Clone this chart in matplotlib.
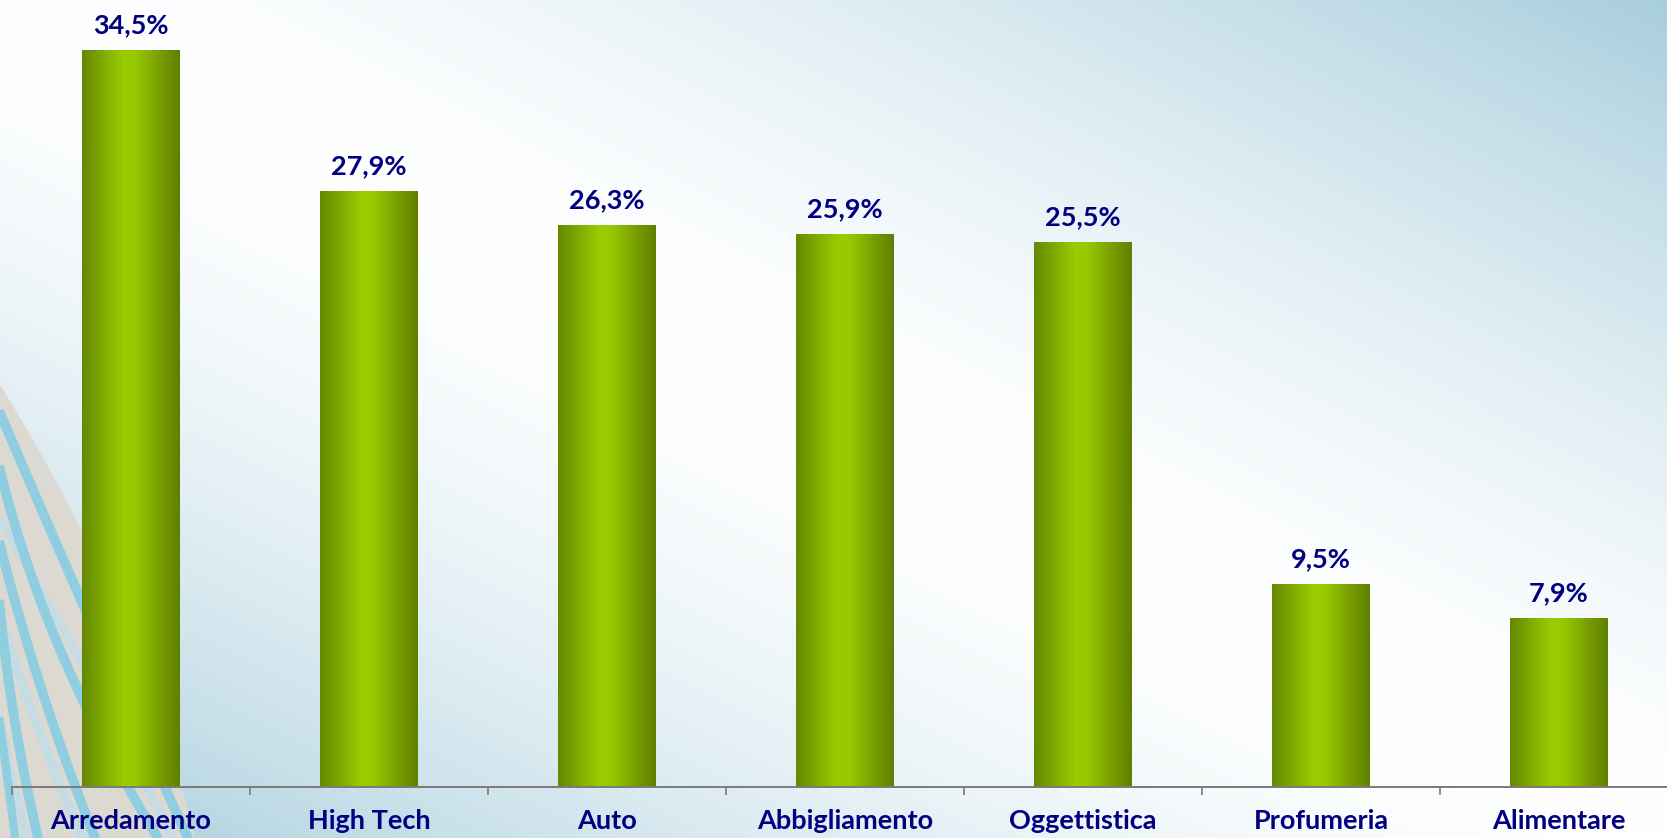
import numpy as np
import matplotlib
matplotlib.use("Agg")
import matplotlib.pyplot as plt
from matplotlib.colors import LinearSegmentedColormap

# ---- data ----
categories = ["Arredamento", "High Tech", "Auto", "Abbigliamento",
              "Oggettistica", "Profumeria", "Alimentare"]
values = [34.5, 27.9, 26.3, 25.9, 25.5, 9.5, 7.9]
value_labels = ["34,5%", "27,9%", "26,3%", "25,9%", "25,5%", "9,5%", "7,9%"]

W, H = 1667, 838
NAVY = "#000080"
FONT = ["Lato", "DejaVu Sans"]

fig = plt.figure(figsize=(W / 100, H / 100), dpi=100)

# ---- background gradient ----
bg = fig.add_axes([0, 0, 1, 1])
bg.set_xlim(0, W)
bg.set_ylim(H, 0)
bg.axis("off")
u = np.linspace(0, 1, 400)[None, :]
w = np.linspace(0, 1, 200)[:, None]
d = np.abs(u - w)
t = np.clip(d, 0, 1) ** 1.5
end = np.array([168, 206, 221]) / 255.0
img = (1 - t[..., None]) * 1.0 + t[..., None] * end
bg.imshow(img, extent=[0, W, H, 0], aspect="auto", zorder=0, interpolation="bilinear")


def curve(pts, n=200):
    ys = np.array([p[0] for p in pts], float)
    xs = np.array([p[1] for p in pts], float)
    c = np.polyfit(ys, xs, 2)
    yy = np.linspace(ys[0] - 40, H + 20, n)
    return np.polyval(c, yy), yy


# decorative swooshes on the left
xo, yo = curve([(385, 0), (530, 81), (838, 195)])
bg.fill_betweenx(yo, -20, xo, color="#DCD9D2", zorder=1, lw=0)
for pts, col, lw in [
    ([(520, 0), (660, 80), (838, 172)], "#C6DCE5", 6),
    ([(600, -5), (720, 35), (838, 82)], "#C6DCE5", 7),
    ([(720, 0), (790, 15), (838, 27)], "#C6DCE5", 6),
    ([(413, 0), (600, 81), (838, 188)], "#8FCDE0", 7),
    ([(470, 0), (640, 56), (838, 158)], "#8FCDE0", 7),
    ([(545, 0), (700, 45), (838, 95)], "#8FCDE0", 7),
    ([(610, 0), (740, 18), (838, 38)], "#8FCDE0", 7),
    ([(690, -5), (760, 5), (838, 15)], "#8FCDE0", 6),
]:
    cx, cy = curve(pts)
    bg.plot(cx, cy, color=col, lw=lw, zorder=2, solid_capstyle="butt")

# ---- main axes ----
ax = fig.add_axes([12 / W, 51 / H, 1666 / W, 787 / H])
ax.patch.set_alpha(0)
x = np.arange(len(categories))
bars = ax.bar(x, values, width=0.41, color="none", edgecolor="none", zorder=2)

cmap = LinearSegmentedColormap.from_list(
    "olive",
    [(0.0, "#658800"), (0.15, "#78A000"), (0.42, "#99CC00"),
     (0.55, "#96C900"), (0.8, "#789E00"), (1.0, "#5E8000")])
grad = np.linspace(0, 1, 256)[None, :]
for b in bars:
    x0, bw, h = b.get_x(), b.get_width(), b.get_height()
    im = ax.imshow(grad, cmap=cmap, extent=[x0, x0 + bw, 0, h],
                   aspect="auto", zorder=2, interpolation="bilinear")
    im.set_clip_path(b)

for xi, v, lab in zip(x, values, value_labels):
    ax.annotate(lab, (xi, v), xytext=(0, 12), textcoords="offset points",
                ha="center", va="baseline", color=NAVY, fontsize=19.5,
                fontweight="bold", family=FONT)

ax.set_xlim(-0.5, len(categories) - 0.5)
ax.set_ylim(0, 36.84)
for s in ["top", "left", "right"]:
    ax.spines[s].set_visible(False)
ax.spines["bottom"].set_color("#7A7A7A")
ax.spines["bottom"].set_linewidth(1.4)
ax.set_yticks([])
ax.set_xticks(x)
ax.set_xticklabels(categories, color=NAVY, fontsize=19.5, fontweight="bold",
                   family=FONT)
ax.tick_params(axis="x", which="major", length=0, pad=16)
ax.set_xticks(np.arange(-0.5, len(categories) + 0.5, 1), minor=True)
ax.tick_params(axis="x", which="minor", length=6, width=1.2, color="#7A7A7A",
               direction="out")

fig.savefig("out.png", dpi=100)
